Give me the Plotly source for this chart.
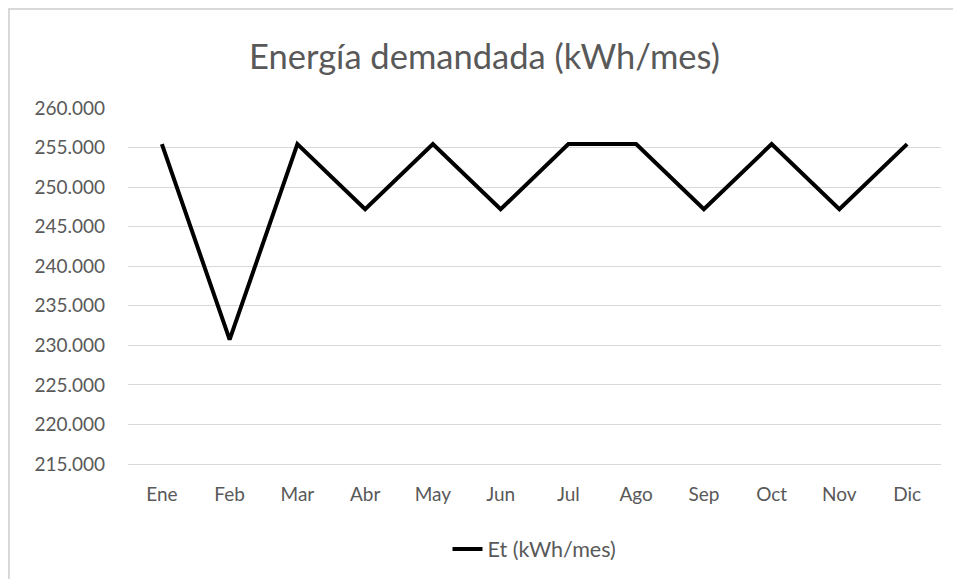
import plotly.graph_objects as go

months = ["Ene", "Feb", "Mar", "Abr", "May", "Jun", "Jul", "Ago", "Sep", "Oct", "Nov", "Dic"]
energy = [255.44, 230.72, 255.44, 247.2, 255.44, 247.2, 255.44, 255.44, 247.2, 255.44, 247.2, 255.44]
tick_vals = [215, 220, 225, 230, 235, 240, 245, 250, 255, 260]
tick_text = ["215.000", "220.000", "225.000", "230.000", "235.000", "240.000", "245.000", "250.000", "255.000", "260.000"]

FONT = "Lato, 'Open Sans', sans-serif"
GREY = "#595959"

fig = go.Figure()
fig.add_trace(go.Scatter(
    x=months, y=energy, mode="lines", name="Et (kWh/mes)",
    line=dict(color="black", width=4),
))

# page body has an 8px default margin, so the figure is drawn 8px smaller
W, H = 953, 571
ml, mr, mt, mb = 120, 20, 100, 115
pw, ph = W - ml - mr, H - mt - mb

fig.update_layout(
    width=W, height=H,
    margin=dict(l=ml, r=mr, t=mt, b=mb, pad=0, autoexpand=False),
    paper_bgcolor="white", plot_bgcolor="white",
    title=dict(text="Energía demandada (kWh/mes)", x=0.5, xanchor="center",
               y=1 - 49 / H, yanchor="middle",
               font=dict(family=FONT, size=34.5, color=GREY)),
    font=dict(family=FONT, color=GREY),
    showlegend=True,
    legend=dict(orientation="h", x=0.5, xanchor="center",
                y=-(541 - (H - mb)) / ph, yanchor="middle",
                font=dict(family=FONT, size=21.5, color=GREY)),
    xaxis=dict(showgrid=False, showline=True, linecolor="#d9d9d9", linewidth=1,
               ticks="", ticklabelstandoff=13,
               tickfont=dict(family=FONT, size=19, color=GREY),
               range=[-0.5, 11.5], fixedrange=True),
    yaxis=dict(range=[215, 260], tickvals=tick_vals, ticktext=tick_text,
               showgrid=True, gridcolor="#d9d9d9", gridwidth=1,
               zeroline=False, showline=False, ticks="",
               ticklabelstandoff=22,
               tickfont=dict(family=FONT, size=19, color=GREY)),
)

# outer chart border (light grey)
x0 = (1 - ml) / pw
x1 = (W + 5 - ml) / pw
y1 = 1 + (mt - 1) / ph
y0 = -(H + 5 - (H - mb)) / ph
fig.add_shape(type="rect", xref="paper", yref="paper", x0=x0, x1=x1, y0=y0, y1=y1,
              line=dict(color="#d9d9d9", width=2), fillcolor="rgba(0,0,0,0)", layer="below")

fig.write_html("out.html")
